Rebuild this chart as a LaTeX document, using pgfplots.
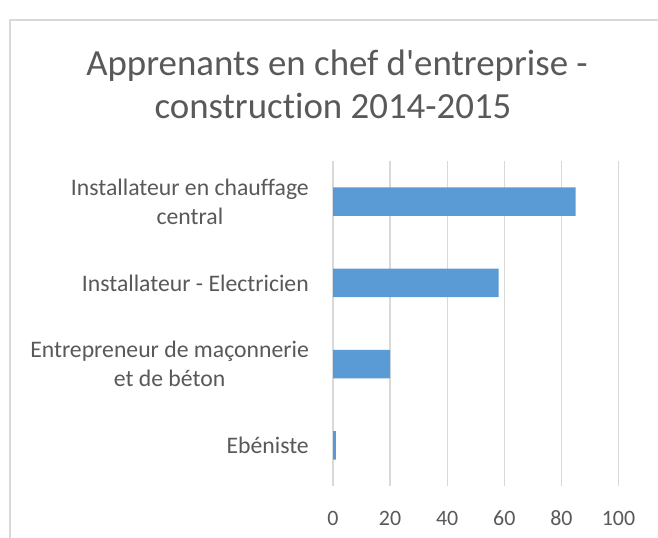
\documentclass[border=0pt]{standalone}
\usepackage{fontspec}
\setmainfont{Carlito}[Ligatures={NoCommon,TeXOff}]
\usepackage{pgfplots}
\pgfplotsset{compat=1.18}
\definecolor{barblue}{HTML}{5B9BD5}
\definecolor{gridgray}{HTML}{D9D9D9}
\definecolor{txtgray}{HTML}{595959}
\begin{document}
\begin{tikzpicture}
\fill[white] (0,0) rectangle (658bp,-538bp);
\useasboundingbox (0,0) rectangle (658bp,-538bp);
\draw[gridgray, line width=1.3bp] (10bp,-700bp) -- (10bp,-20bp) -- (800bp,-20bp);
\node[anchor=base, text=txtgray, font=\fontsize{37}{44}\selectfont, inner sep=0pt] at (337bp,-75bp) {Apprenants en chef d'entreprise -};
\node[anchor=base, text=txtgray, font=\fontsize{37}{44}\selectfont, inner sep=0pt] at (333bp,-118bp) {construction 2014-2015};
\begin{axis}[
  scale only axis, width=285.5bp, height=325bp,
  at={(333bp,-486bp)}, anchor=south west,
  xbar, bar width=0.35,
  xmin=0, xmax=100, ymin=-0.5, ymax=3.5,
  xtick={0,20,40,60,80,100}, ytick={0,1,2,3},
  yticklabels={Ebéniste, {Entrepreneur de maçonnerie\\et de béton}, {Installateur - Electricien}, {Installateur en chauffage\\central}},
  axis line style={draw=none},
  major tick length=0pt,
  xmajorgrids,
  grid style={color=gridgray, line width=1.3bp},
  /pgf/number format/assume math mode=true,
  xticklabel style={anchor=center, inner sep=0pt, yshift=-32bp, text=txtgray, font=\fontsize{22}{26}\selectfont},
  yticklabel style={anchor=east, inner sep=0pt, xshift=-24bp, align=center, text=txtgray, font=\fontsize{23.8}{29}\selectfont},
]
\addplot[fill=barblue, draw=none] coordinates {(1,0) (20,1) (58,2) (85,3)};
\end{axis}
\end{tikzpicture}
\end{document}
